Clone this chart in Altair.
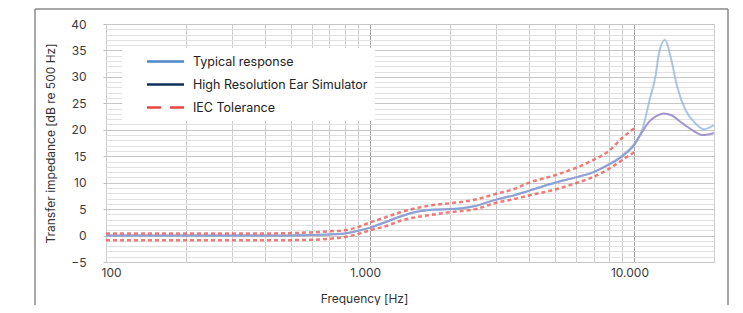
import altair as alt
import pandas as pd

# ---------------- data ----------------
resp_freq = [100, 200, 400, 600, 700, 800, 900, 1000, 1150, 1300, 1500, 1700, 2000, 2500, 3000,
             3500, 4000, 5000, 6000, 7000, 8000, 9000, 10000, 10750, 11400, 12000, 12390, 13050,
             13700, 14520, 15620, 17030, 18320, 20000]
typical = [0.0, 0.0, 0.0, 0.1, 0.2, 0.4, 0.9, 1.5, 2.6, 3.6, 4.5, 4.9, 5.0, 5.6, 6.8,
           7.6, 8.5, 10.0, 11.0, 12.0, 13.5, 15.2, 17.4, 20.3, 25.6, 30.0, 34.5, 37.0,
           33.8, 28.1, 23.7, 21.2, 20.1, 20.9]

hres_freq = [100, 200, 400, 600, 700, 800, 900, 1000, 1150, 1300, 1500, 1700, 2000, 2500, 3000,
             3500, 4000, 5000, 6000, 7000, 8000, 9000, 10000, 10750, 11400, 12080, 12870, 13760,
             15220, 16610, 18130, 20000]
hres = [0.0, 0.0, 0.0, 0.1, 0.2, 0.4, 0.9, 1.5, 2.6, 3.6, 4.5, 4.9, 5.0, 5.6, 6.8,
        7.6, 8.5, 10.0, 11.0, 12.0, 13.4, 15.0, 17.2, 19.8, 21.6, 22.6, 23.1, 22.8,
        21.2, 19.9, 19.0, 19.4]

tol_freq = [100, 200, 400, 600, 700, 800, 900, 1000, 1150, 1300, 1500, 1700, 2000, 2500, 3000,
            3500, 4000, 5000, 6000, 7000, 8000, 9000, 10000]
tol_upper = [0.4, 0.4, 0.4, 0.6, 0.8, 1.0, 1.6, 2.5, 3.5, 4.4, 5.2, 5.7, 6.1, 6.8, 7.9,
             8.8, 10.0, 11.4, 12.8, 14.3, 16.0, 18.5, 20.3]
tol_lower = [-0.9, -0.9, -0.9, -0.8, -0.6, -0.3, 0.3, 1.0, 1.8, 2.8, 3.5, 3.9, 4.4, 5.0, 6.2,
             6.9, 7.6, 8.7, 9.9, 11.1, 12.6, 14.3, 15.8]

series_names = ["Typical response", "High Resolution Ear Simulator", "IEC Tolerance"]
legend_colors = ["#4f86c8", "#10305a", "#e8463c"]
legend_dashes = [[1, 0], [1, 0], [14, 9]]

x_grid_values = [100, 200, 300, 400, 500, 600, 700, 800, 900,
                 1000, 2000, 3000, 4000, 5000, 6000, 7000, 8000, 9000, 10000, 20000]
x_label_values = [100, 1000, 10000]
x_label_texts = ["100", "1.000", "10.000"]
y_grid_values = list(range(-5, 41))

# ---------------- tables ----------------
rows = []
for f, v in zip(resp_freq, typical):
    rows.append({"freq": f, "value": v, "series": series_names[0], "part": "typ"})
for f, v in zip(hres_freq, hres):
    rows.append({"freq": f, "value": v, "series": series_names[1], "part": "hres"})
for f, v in zip(tol_freq, tol_upper):
    rows.append({"freq": f, "value": v, "series": series_names[2], "part": "upper"})
for f, v in zip(tol_freq, tol_lower):
    rows.append({"freq": f, "value": v, "series": series_names[2], "part": "lower"})
df = pd.DataFrame(rows)

label_expr = " : ".join(
    [f"datum.value == {v} ? '{t}'" for v, t in zip(x_label_values, x_label_texts)]
) + " : ''"
major_test = " || ".join([f"datum.value == {v}" for v in x_label_values[1:]])

FONT = "Inter"

x_enc = alt.X(
    "freq:Q",
    scale=alt.Scale(type="log", domain=[100, 20000], nice=False),
    axis=alt.Axis(
        values=x_grid_values,
        labelExpr=label_expr,
        labelOverlap=False,
        labelBound=False,
        labelFont=FONT, labelFontSize=12, labelColor="#3a3a3a",
        labelPadding=5, labelOffset=-5,
        ticks=False, domain=False,
        grid=True,
        gridColor={"condition": {"test": major_test, "value": "#a0a0a0"}, "value": "#cdcdcd"},
        gridWidth=1,
        title="Frequency [Hz]",
        titleFont=FONT, titleFontSize=12, titleFontWeight="normal", titleColor="#333333",
        titleX=258, titleY=36, titleAlign="center", titleBaseline="middle",
    ),
)
y_enc = alt.Y(
    "value:Q",
    scale=alt.Scale(domain=[-5, 40], nice=False, zero=False),
    axis=alt.Axis(
        values=y_grid_values,
        labelExpr="datum.value % 5 == 0 ? datum.label : ''",
        labelOverlap=False,
        labelFont=FONT, labelFontSize=12, labelColor="#3a3a3a",
        labelPadding=17,
        tickSize=3,
        tickColor={"condition": {"test": "datum.value % 5 == 0", "value": "#bdbdbd"}, "value": "transparent"},
        domain=False,
        grid=True,
        gridColor={"condition": {"test": "datum.value % 5 == 0", "value": "#c6c6c6"}, "value": "#e1e1e1"},
        gridWidth=1,
        title="Transfer impedance [dB re 500 Hz]",
        titleFont=FONT, titleFontSize=12, titleFontWeight="normal", titleColor="#333333",
        titleX=-56, titleY=119, titleAlign="center", titleBaseline="middle", titleAngle=270,
    ),
)

legend_props = dict(
    title=None, orient="none", legendX=16, legendY=24,
    fillColor="white", padding=7,
    symbolType="M-3.7,0H3.7", symbolSize=100, symbolStrokeWidth=2.5,
    symbolOpacity=1, symbolOffset=30,
    labelOffset=21, labelFont=FONT, labelFontSize=12.5, labelColor="#222222",
    labelLimit=400,
    rowPadding=10,
)

base = alt.Chart(df)

# invisible layer that carries the legend
legend_layer = base.mark_line(opacity=0, strokeWidth=2.5).encode(
    x=x_enc, y=y_enc,
    color=alt.Color(
        "series:N",
        scale=alt.Scale(domain=series_names, range=legend_colors),
        sort=series_names,
        legend=alt.Legend(**legend_props),
    ),
    strokeDash=alt.StrokeDash(
        "series:N",
        scale=alt.Scale(domain=series_names, range=legend_dashes),
        sort=series_names,
        legend=alt.Legend(**legend_props),
    ),
    detail="part:N",
)

hres_line = base.transform_filter(alt.datum.part == "hres").mark_line(
    interpolate="monotone", stroke="#9a8cc6", strokeWidth=2, opacity=0.9
).encode(x=x_enc, y=y_enc)

typ_line = base.transform_filter(alt.datum.part == "typ").mark_line(
    interpolate="monotone", stroke="#7fa8da", strokeWidth=2, opacity=0.65
).encode(x=x_enc, y=y_enc)

tol_lines = base.transform_filter(alt.datum.series == series_names[2]).mark_line(
    interpolate="monotone", stroke="#ec5a55", strokeWidth=2.5, strokeDash=[4, 3], opacity=0.8
).encode(x=x_enc, y=y_enc, detail="part:N")

frame_df = pd.DataFrame({"k": [0]})
frame_top = alt.Chart(frame_df).mark_rule(color="#8a8a8a", strokeWidth=1.5).encode(
    x=alt.value(-71), x2=alt.value(622), y=alt.value(-15))
frame_left = alt.Chart(frame_df).mark_rule(color="#8a8a8a", strokeWidth=1.5).encode(
    x=alt.value(-71), y=alt.value(-15), y2=alt.value(300))
frame_right = alt.Chart(frame_df).mark_rule(color="#8a8a8a", strokeWidth=1.5).encode(
    x=alt.value(622), y=alt.value(-15), y2=alt.value(300))

chart = alt.layer(
    legend_layer, hres_line, typ_line, tol_lines, frame_top, frame_left, frame_right
).properties(
    width=608, height=238,
    autosize=alt.AutoSizeParams(type="none"),
    padding={"left": 98, "top": 16, "right": 21, "bottom": 43},
).configure_view(stroke=None).configure(background="white")

chart.save("out.html", embed_options={"renderer": "svg", "actions": False})
